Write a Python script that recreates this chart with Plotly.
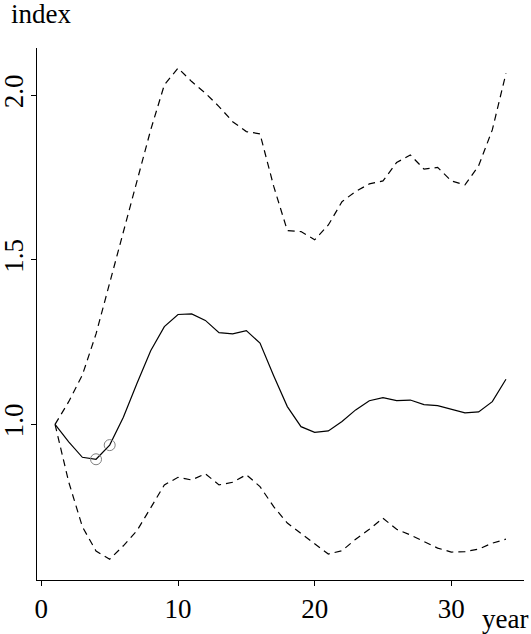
import plotly.graph_objects as go

years = list(range(1, 35))
index_mid = [1.000, 0.947, 0.900, 0.894, 0.937, 1.022, 1.125, 1.224, 1.297, 1.334,
             1.336, 1.316, 1.279, 1.275, 1.285, 1.247, 1.148, 1.054, 0.993, 0.976,
             0.980, 1.009, 1.044, 1.072, 1.081, 1.072, 1.074, 1.060, 1.057, 1.047,
             1.035, 1.038, 1.069, 1.137]
index_upper = [1.000, 1.069, 1.150, 1.275, 1.430, 1.585, 1.740, 1.895, 2.032, 2.083,
               2.042, 2.007, 1.966, 1.920, 1.890, 1.883, 1.724, 1.589, 1.586, 1.561,
               1.606, 1.677, 1.708, 1.731, 1.740, 1.796, 1.819, 1.776, 1.781, 1.740,
               1.728, 1.786, 1.895, 2.067]
index_lower = [1.000, 0.825, 0.689, 0.615, 0.590, 0.631, 0.677, 0.745, 0.816, 0.839,
               0.831, 0.850, 0.816, 0.824, 0.847, 0.811, 0.750, 0.700, 0.669, 0.639,
               0.606, 0.616, 0.651, 0.681, 0.715, 0.681, 0.664, 0.644, 0.624, 0.612,
               0.613, 0.621, 0.639, 0.651]
marked_years = [4, 5]
marked_values = [index_mid[3], index_mid[4]]

x_ticks = [0, 10, 20, 30]
y_ticks = [1.0, 1.5, 2.0]
y_tick_labels = ["1.0", "1.5", "2.0"]

FONT = "Liberation Serif, Times New Roman, serif"
FS = 27

fig = go.Figure()
fig.add_trace(go.Scatter(x=years, y=index_upper, mode="lines", hoverinfo="skip",
                         line=dict(color="black", width=1.2, dash="7px,5px")))
fig.add_trace(go.Scatter(x=years, y=index_lower, mode="lines", hoverinfo="skip",
                         line=dict(color="black", width=1.2, dash="7px,5px")))
fig.add_trace(go.Scatter(x=years, y=index_mid, mode="lines", hoverinfo="skip",
                         line=dict(color="black", width=1.2)))
fig.add_trace(go.Scatter(x=marked_years, y=marked_values, mode="markers", hoverinfo="skip",
                         marker=dict(symbol="circle-open", size=11, color="#808080",
                                     line=dict(width=1, color="#808080"))))

W, H = 531, 634
ml, mr, mt, mb = 37, 7, 48, 54
pw, ph = W - ml - mr, H - mt - mb

def px(xp):
    return (xp - ml) / pw

def py(yp):
    return (H - mb - yp) / ph

fig.update_layout(
    width=W, height=H,
    margin=dict(l=ml, r=mr, t=mt, b=mb, autoexpand=False),
    paper_bgcolor="white", plot_bgcolor="white",
    showlegend=False,
    font=dict(family=FONT, size=FS, color="black"),
    xaxis=dict(range=[-0.32, 35.32], showgrid=False, zeroline=False, automargin=False,
               showline=True, linecolor="black", linewidth=1,
               ticks="outside", ticklen=5, tickcolor="black", tickwidth=1,
               tickvals=x_ticks, ticktext=[str(v) for v in x_ticks],
               tickfont=dict(family=FONT, size=FS, color="black")),
    yaxis=dict(range=[0.527, 2.144], showgrid=False, zeroline=False, automargin=False,
               showline=True, linecolor="black", linewidth=1,
               ticks="outside", ticklen=5, tickcolor="black", tickwidth=1,
               ticklabelstandoff=-3,
               tickvals=y_ticks, ticktext=y_tick_labels, tickangle=-90,
               tickfont=dict(family=FONT, size=FS, color="black")),
    annotations=[
        dict(text="index", xref="paper", yref="paper", x=px(41), y=py(14),
             xanchor="center", yanchor="middle", showarrow=False,
             font=dict(family=FONT, size=FS, color="black")),
        dict(text="year", xref="paper", yref="paper", x=px(505), y=py(619),
             xanchor="center", yanchor="middle", showarrow=False,
             font=dict(family=FONT, size=FS, color="black")),
    ],
)

fig.write_html("out.html", config={"displayModeBar": False},
               post_script="document.body.style.margin='0';")
